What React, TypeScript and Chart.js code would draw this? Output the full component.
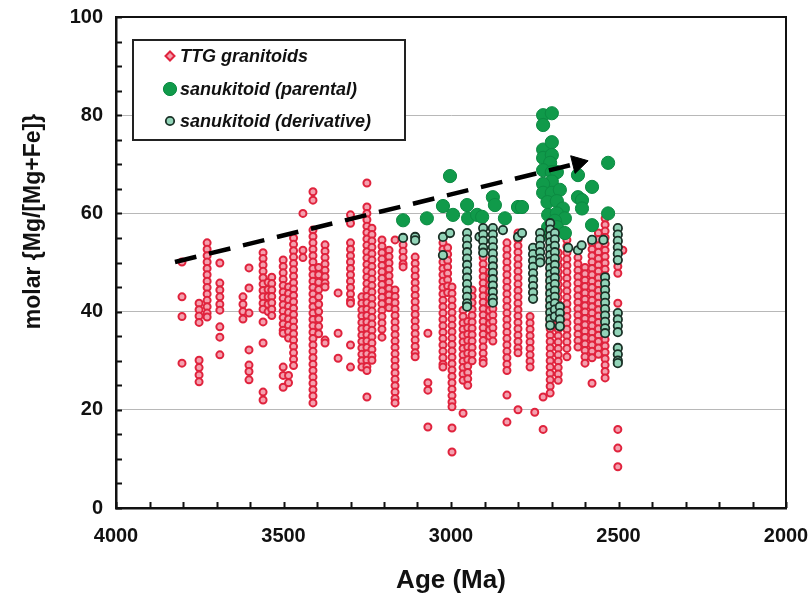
import { useEffect, useRef } from "react";
import { Chart, registerables } from "chart.js";

Chart.register(...registerables);

const FONT = "'Liberation Sans', Arial, Helvetica, sans-serif";

// Axis ranges / ticks
const xMin = 2000;
const xMax = 4000;
const xMajorStep = 500;
const xMinorStep = 100;
const yMin = 0;
const yMax = 100;
const yMajorStep = 20;
const yMinorStep = 5;

const xTitle = "Age (Ma)";
const yTitle = "molar {Mg/[Mg+Fe]}";
const seriesLabels = ["TTG granitoids", "sanukitoid (parental)", "sanukitoid (derivative)"];

// TTG granitoids: [age (Ma), Mg# values]
const ttgColumns: [number, number[]][] = [
  [3803, [50.1, 43, 39, 29.5]],
  [3752, [41.7, 40.4, 39.1, 37.8, 30.1, 28.6, 27.1, 25.7]],
  [3728, [54, 52.7, 51.4, 50.1, 48.8, 47.5, 46.2, 44.9, 43.6, 42.3, 41, 39.7, 38.9]],
  [3690, [49.9, 45.8, 44.4, 43, 41.5, 40.3, 36.9, 34.8, 31.2]],
  [3621, [43, 41.5, 40, 38.5]],
  [3603, [48.9, 44.8, 39.7, 32.2, 29.1, 27.8, 26.1]],
  [3561, [52, 50.8, 49.5, 48.2, 46.9, 45.6, 44.3, 43, 41.7, 40.5, 37.9, 33.6, 23.6, 22]],
  [3546, [46, 44.5, 43, 41.5, 40]],
  [3535, [47, 45.7, 44.4, 43.1, 41.8, 40.5, 39.2]],
  [3501, [50.5, 49.2, 47.9, 46.6, 45.3, 44, 42.7, 41.4, 40.1, 38.8, 37.5, 36.2, 35.6, 28.7, 27, 24.6]],
  [3485, [45, 43.7, 42.4, 41.1, 39.8, 38.5, 37.2, 35.9, 34.6, 27, 25.5]],
  [3470, [55, 53.7, 52.4, 51.1, 49.8, 48.5, 47.2, 45.9, 44.6, 43.3, 42, 40.7, 39.4, 38.1, 36.8, 35.5, 34.2, 32.9, 31.6, 30.3, 29]],
  [3442, [60, 52.5, 51]],
  [3412, [64.4, 62.7, 56.6, 55.3, 54, 52.7, 51.4, 50.1, 48.8, 47.5, 46.2, 44.9, 43.6, 42.3, 41, 39.7, 38.4, 37.1, 35.8, 34.5, 33.2, 31.9, 30.6, 29.3, 28, 26.7, 25.4, 24.1, 22.8, 21.4]],
  [3395, [49, 47.5, 46, 44.5, 43, 41.5, 40, 38.5, 37, 35.5]],
  [3376, [53.6, 52.3, 51, 49.7, 48.4, 47.1, 45.8, 45, 34.2, 33.6]],
  [3337, [43.8, 35.6, 30.5]],
  [3300, [59.7, 58, 54, 52.7, 51.4, 50.1, 48.8, 47.5, 46.2, 44.9, 43.6, 42.3, 41.7, 33.2, 28.7]],
  [3266, [43, 41.7, 40.4, 39.1, 37.8, 36.5, 35.2, 33.9, 32.6, 31.3, 30, 28.7]],
  [3251, [66.2, 61.3, 60, 58.7, 57.4, 56.1, 54.8, 53.5, 52.2, 50.9, 49.6, 48.3, 47, 45.7, 44.4, 43.1, 41.8, 40.5, 39.2, 37.9, 36.6, 35.3, 34, 32.7, 31.4, 30.1, 28.8, 28, 22.6]],
  [3236, [57, 55.7, 54.4, 53.1, 51.8, 50.5, 49.2, 47.9, 46.6, 45.3, 44, 42.7, 41.4, 40.1, 38.8, 37.5, 36.2, 34.9, 33.6, 32.3, 31, 30.1]],
  [3206, [54.6, 53.3, 52, 50.7, 49.4, 48.1, 46.8, 45.5, 44.2, 42.9, 41.6, 40.3, 39, 37.7, 36.4, 34.8]],
  [3185, [52.5, 51.2, 49.9, 48.6, 47.3, 46, 44.7, 43.4, 42.1, 40.8]],
  [3167, [54.6, 44.4, 43.1, 41.8, 40.5, 39.2, 37.9, 36.6, 35.3, 34, 32.7, 31.4, 30.1, 28.8, 27.5, 26.2, 24.9, 23.6, 22.3, 21.4]],
  [3143, [53.6, 52.3, 51, 49.7, 49.1]],
  [3107, [51.1, 49.8, 48.5, 47.2, 45.9, 44.6, 43.3, 42, 40.7, 39.4, 38.1, 36.8, 35.5, 34.2, 32.9, 31.6, 30.8]],
  [3069, [35.6, 25.5, 24, 16.5]],
  [3024, [54, 52.7, 51.4, 50.1, 48.8, 47.5, 46.2, 44.9, 43.6, 42.3, 41, 39.7, 38.4, 37.1, 35.8, 34.5, 33.2, 31.9, 30.6, 29.3, 28.7]],
  [3010, [53, 51.7, 50.4, 49.1, 47.8, 46.5, 45.2, 43.9]],
  [2997, [45, 43.7, 42.4, 41.1, 39.8, 38.5, 37.2, 35.9, 34.6, 33.3, 32, 30.7, 29.4, 28.1, 26.8, 25.5, 24.2, 22.9, 21.6, 20.6, 16.3, 11.4]],
  [2964, [40.3, 39, 37.7, 36.4, 35.1, 33.8, 32.5, 31.2, 29.9, 28.6, 27.3, 26, 19.3]],
  [2950, [38, 36.7, 35.4, 34.1, 32.8, 31.5, 30.2, 28.9, 27.6, 26.3, 25]],
  [2937, [44.4, 43.1, 41.8, 40.5, 39.2, 37.9, 36.6, 35.3, 34, 32.7, 31.4, 30]],
  [2904, [51, 49.7, 48.4, 47.1, 45.8, 44.5, 43.2, 41.9, 40.6, 39.3, 38, 36.7, 35.4, 34.1, 32.8, 31.5, 30.2, 29.5]],
  [2885, [48, 46.7, 45.4, 44.1, 42.8, 41.5, 40.2, 38.9, 37.6, 36.3, 35]],
  [2875, [51, 49.7, 48.4, 47.1, 45.8, 44.5, 43.2, 41.9, 40.6, 39.3, 38, 36.7, 35.4, 34]],
  [2833, [54, 52.7, 51.4, 50.1, 48.8, 47.5, 46.2, 44.9, 43.6, 42.3, 41, 39.7, 38.4, 37.1, 35.8, 34.5, 33.2, 31.9, 30.6, 29.3, 28, 23, 17.5]],
  [2800, [56, 54.7, 53.4, 52.1, 50.8, 49.5, 48.2, 46.9, 45.6, 44.3, 43, 41.7, 40.4, 39.1, 37.8, 36.5, 35.2, 33.9, 32.6, 31.6, 20]],
  [2764, [39, 37.7, 36.4, 35.1, 33.8, 32.5, 31.2, 29.9, 28.7]],
  [2750, [19.5]],
  [2725, [22.6, 16]],
  [2704, [56, 54.7, 53.4, 52.1, 50.8, 49.5, 48.2, 46.9, 45.6, 44.3, 43, 41.7, 40.4, 39.1, 37.8, 36.5, 35.2, 33.9, 32.6, 31.3, 30, 28.7, 27.4, 26.1, 24.8, 23.4]],
  [2680, [52, 50.7, 49.4, 48.1, 46.8, 45.5, 44.2, 42.9, 41.6, 40.3, 39, 37.7, 36.4, 35.1, 33.8, 32.5, 31.2, 29.9, 28.6, 27.3, 26]],
  [2654, [54.6, 53.3, 52, 50.7, 49.4, 48.1, 46.8, 45.5, 44.2, 42.9, 41.6, 40.3, 39, 37.7, 36.4, 35.1, 33.8, 32.5, 30.8]],
  [2621, [51, 49.7, 48.4, 47.1, 45.8, 44.5, 43.2, 41.9, 40.6, 39.3, 38, 36.7, 35.4, 34.1, 32.8]],
  [2600, [49, 47.7, 46.4, 45.1, 43.8, 42.5, 41.2, 39.9, 38.6, 37.3, 36, 34.7, 33.4, 32.1, 30.8, 29.5]],
  [2579, [54, 52.7, 51.4, 50.1, 48.8, 47.5, 46.2, 44.9, 43.6, 42.3, 41, 39.7, 38.4, 37.1, 35.8, 34.5, 33.2, 31.9, 30.6, 25.4]],
  [2560, [56, 54.7, 53.4, 52.1, 50.8, 49.5, 48.2, 46.9, 45.6, 44.3, 43, 41.7, 40.4, 39.1, 37.8, 36.5, 35.2, 33.9, 32.6, 31.3]],
  [2540, [59, 57.7, 56.4, 55.1, 53.8, 52.5, 51.2, 49.9, 48.6, 47.3, 46, 44.7, 43.4, 42.1, 40.8, 39.5, 38.2, 36.9, 35.6, 34.3, 33, 31.7, 30.4, 29.1, 27.8, 26.5]],
  [2502, [50.5, 49.2, 47.8, 41.7, 16, 12.2, 8.4]],
  [2487, [52.5]],
];

// sanukitoid (parental): [age (Ma), Mg#]
const parentalPoints: [number, number][] = [
  [3143, 58.6], [3072, 59], [3003, 67.6], [3024, 61.5], [2994, 59.7],
  [2952, 61.7], [2949, 59], [2922, 59.7], [2907, 59.3], [2875, 63.3],
  [2869, 61.7], [2839, 59], [2800, 61.3], [2788, 61.3],
  [2725, 80], [2699, 80.4], [2725, 78], [2725, 73], [2699, 74.5],
  [2725, 71.3], [2699, 71.9], [2704, 70.3], [2725, 68.8], [2699, 68.4],
  [2684, 68.4], [2699, 66.5], [2725, 66], [2725, 64.2], [2699, 64.2],
  [2675, 64.8], [2712, 62.3], [2684, 62.5], [2666, 61], [2710, 59.7],
  [2684, 60], [2660, 59], [2690, 58.5], [2710, 57.2], [2684, 57.2],
  [2660, 56], [2704, 55.5], [2621, 67.8], [2579, 65.4], [2621, 63.3],
  [2609, 62.7], [2609, 61], [2579, 57.6], [2531, 70.3], [2531, 60],
];

// sanukitoid (derivative): [age (Ma), Mg# values]
const derivativeColumns: [number, number[]][] = [
  [3143, [55]],
  [3107, [55.2, 54.5]],
  [3024, [55.2, 51.5]],
  [3003, [56]],
  [2952, [56, 54.7, 53.4, 52.1, 50.8, 49.5, 48.2, 46.9, 45.6, 44.3, 43, 41.7, 41]],
  [2915, [55.2]],
  [2904, [57, 55.7, 54.4, 53, 52]],
  [2875, [57, 55.7, 54.4, 53.1, 51.8, 50.5, 49.2, 47.9, 46.6, 45.3, 44, 42.7, 41.8]],
  [2845, [56.6]],
  [2800, [55.2]],
  [2788, [56]],
  [2755, [53, 51.7, 50.4, 49.1, 47.8, 46.5, 45.2, 43.9, 42.6]],
  [2734, [56, 54.7, 53.4, 52.1, 50.8, 50]],
  [2704, [58, 56.7, 55.4, 54.1, 52.8, 51.5, 50.2, 48.9, 47.6, 46.3, 45, 43.7, 42.4, 41.1, 39.8, 38.5, 37.2]],
  [2690, [56, 54.7, 53.4, 52.1, 50.8, 49.5, 48.2, 46.9, 45.6, 44.3, 43, 41.7, 40.4, 39]],
  [2675, [41, 39.7, 38.4, 37]],
  [2650, [53]],
  [2621, [52.5]],
  [2610, [53.5]],
  [2579, [54.6]],
  [2545, [54.6]],
  [2540, [47, 45.7, 44.4, 43.1, 41.8, 40.5, 39.2, 37.9, 36.6, 35.6]],
  [2502, [57, 55.7, 54.4, 53.1, 51.8, 50.5, 39.7, 38.4, 37.1, 35.8, 32.6, 31.3, 30, 29.5]],
];

// dashed trend arrow
const trendAges = [3824, 2645];
const trendValues = [50.1, 69.8];
const trendHeadAge = [2621];
const trendHeadValue = [70.2];

const fromColumns = (cols: [number, number[]][]) =>
  cols.flatMap(([age, ys]) => ys.map((y) => ({ x: age, y })));

const TTG_STYLE = { bg: "#f4a0ae", border: "#e0233d", radius: 3.5, width: 2 };
const PAR_STYLE = { bg: "#109a4a", border: "#0c8a42", radius: 6.6, width: 1 };
const DER_STYLE = { bg: "#92d4b8", border: "#1b3127", radius: 4.2, width: 1.8 };

const decorPlugin = {
  id: "decor",
  afterDraw(chart: any) {
    const { ctx, chartArea: ca, scales } = chart;
    const xs = scales.x;
    const ys = scales.y;
    ctx.save();
    // top & right frame
    ctx.strokeStyle = "#111";
    ctx.lineWidth = 2;
    ctx.beginPath();
    ctx.moveTo(ca.left, ca.top);
    ctx.lineTo(ca.right, ca.top);
    ctx.lineTo(ca.right, ca.bottom);
    ctx.stroke();
    // inward minor ticks
    ctx.lineWidth = 2;
    ctx.beginPath();
    for (let v = yMin; v <= yMax; v += yMinorStep) {
      const py = Math.round(ys.getPixelForValue(v)) + 0.5;
      ctx.moveTo(ca.left, py);
      ctx.lineTo(ca.left + 6, py);
    }
    for (let a = xMin; a <= xMax; a += xMinorStep) {
      const px = Math.round(xs.getPixelForValue(a)) + 0.5;
      ctx.moveTo(px, ca.bottom);
      ctx.lineTo(px, ca.bottom - 6);
    }
    ctx.stroke();

    // y title
    ctx.fillStyle = "#111";
    ctx.font = `bold 23px ${FONT}`;
    ctx.textAlign = "center";
    ctx.textBaseline = "alphabetic";
    ctx.translate(40, (ca.top + ca.bottom) / 2 - 41);
    ctx.rotate(-Math.PI / 2);
    ctx.fillText(yTitle, 0, 0);
    ctx.restore();

    // legend
    ctx.save();
    const left = ca.left + 17;
    const top = ca.top + 23;
    const w = 272;
    const h = 100;
    ctx.fillStyle = "#fff";
    ctx.fillRect(left, top, w, h);
    ctx.strokeStyle = "#222";
    ctx.lineWidth = 2;
    ctx.strokeRect(left, top, w, h);
    const styles = [TTG_STYLE, PAR_STYLE, DER_STYLE];
    const rows = [16, 49, 81];
    ctx.font = `italic bold 18px ${FONT}`;
    ctx.textAlign = "left";
    ctx.textBaseline = "middle";
    seriesLabels.forEach((label, i) => {
      const st = styles[i];
      const cx = left + 37;
      const cy = top + rows[i];
      ctx.beginPath();
      if (i === 0) {
        const r = 4.5;
        ctx.moveTo(cx, cy - r);
        ctx.lineTo(cx + r, cy);
        ctx.lineTo(cx, cy + r);
        ctx.lineTo(cx - r, cy);
        ctx.closePath();
      } else {
        ctx.arc(cx, cy, st.radius, 0, Math.PI * 2);
      }
      ctx.fillStyle = st.bg;
      ctx.fill();
      ctx.lineWidth = st.width;
      ctx.strokeStyle = st.border;
      ctx.stroke();
      ctx.fillStyle = "#111";
      ctx.fillText(label, left + 47, cy + 1);
    });
    ctx.restore();
  },
};

export default function App() {
  const canvasRef = useRef<HTMLCanvasElement | null>(null);

  useEffect(() => {
    const canvas = canvasRef.current;
    if (!canvas) return;
    const chart = new Chart(canvas, {
      type: "scatter",
      data: {
        datasets: [
          {
            label: seriesLabels[0],
            data: fromColumns(ttgColumns),
            backgroundColor: TTG_STYLE.bg,
            borderColor: TTG_STYLE.border,
            borderWidth: TTG_STYLE.width,
            pointRadius: TTG_STYLE.radius,
            order: 4,
          },
          {
            label: seriesLabels[1],
            data: parentalPoints.map(([x, y]) => ({ x, y })),
            backgroundColor: PAR_STYLE.bg,
            borderColor: PAR_STYLE.border,
            borderWidth: PAR_STYLE.width,
            pointRadius: PAR_STYLE.radius,
            order: 3,
          },
          {
            label: seriesLabels[2],
            data: fromColumns(derivativeColumns),
            backgroundColor: DER_STYLE.bg,
            borderColor: DER_STYLE.border,
            borderWidth: DER_STYLE.width,
            pointRadius: DER_STYLE.radius,
            order: 2,
          },
          {
            label: "trend",
            type: "line",
            data: trendAges.map((x, i) => ({ x, y: trendValues[i] })),
            borderColor: "#000",
            borderWidth: 4.5,
            borderDash: [22, 13],
            pointRadius: 0,
            fill: false,
            order: 1,
          } as any,
          {
            label: "trend head",
            data: trendHeadAge.map((x, i) => ({ x, y: trendHeadValue[i] })),
            pointStyle: "triangle",
            rotation: 76,
            pointRadius: 10.5,
            backgroundColor: "#000",
            borderColor: "#000",
            borderWidth: 1,
            order: 0,
          } as any,
        ],
      },
      options: {
        animation: false,
        responsive: false,
        devicePixelRatio: 1,
        layout: { padding: { top: 17, right: 23, bottom: 0, left: 0 } },
        plugins: {
          legend: { display: false },
          tooltip: { enabled: false },
        },
        scales: {
          x: {
            type: "linear",
            min: xMin,
            max: xMax,
            reverse: true,
            afterFit: (s: any) => {
              s.height = 90;
              s.paddingLeft = 0;
              s.paddingRight = 0;
            },
            ticks: {
              stepSize: xMajorStep,
              autoSkip: false,
              maxRotation: 0,
              padding: 16,
              color: "#111",
              font: { family: FONT, size: 20, weight: "bold" },
              callback: (v: any) => String(v),
            },
            grid: { display: false, drawTicks: false },
            border: { display: true, color: "#111", width: 2.5 },
            title: {
              display: true,
              text: xTitle,
              color: "#111",
              font: { family: FONT, size: 26, weight: "bold" },
              padding: { top: 0, bottom: 2 },
            },
          },
          y: {
            type: "linear",
            min: yMin,
            max: yMax,
            afterFit: (s: any) => {
              s.width = 116;
              s.paddingTop = 0;
              s.paddingBottom = 0;
            },
            ticks: {
              stepSize: yMajorStep,
              padding: 13,
              color: "#111",
              font: { family: FONT, size: 20, weight: "bold" },
              callback: (v: any) => String(v),
            },
            grid: {
              drawTicks: false,
              lineWidth: 1,
              color: (c: any) =>
                c.tick && (c.tick.value === yMin || c.tick.value === yMax) ? "rgba(0,0,0,0)" : "#b8b8b8",
            },
            border: { display: true, color: "#111", width: 2.5 },
            title: { display: false },
          },
        },
      },
      plugins: [decorPlugin],
    });
    return () => chart.destroy();
  }, []);

  return (
    <div style={{ position: "fixed", left: 0, top: 0, width: 809, height: 598, background: "#fff" }}>
      <canvas ref={canvasRef} width={809} height={598} style={{ display: "block" }} />
    </div>
  );
}
